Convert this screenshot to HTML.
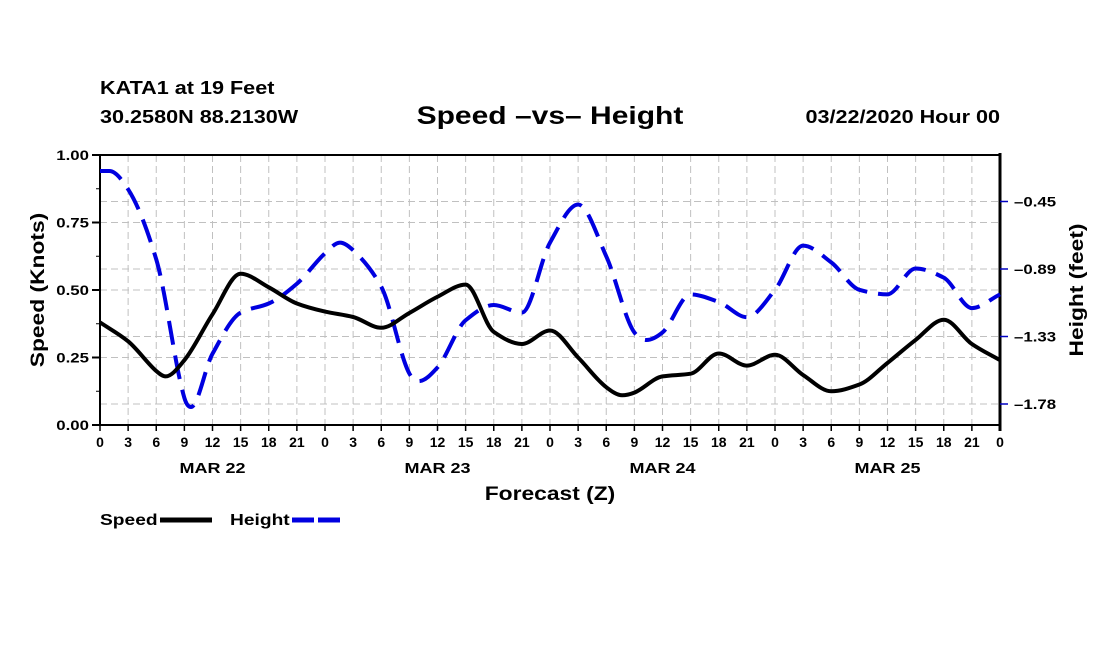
<!DOCTYPE html>
<html><head><meta charset="utf-8"><style>
html,body{margin:0;padding:0;background:#fff;}
svg text{font-family:"Liberation Sans",Arial,sans-serif;font-weight:bold;}
</style></head><body>
<svg id="chart" width="1100" height="650" viewBox="0 0 1100 650" xmlns="http://www.w3.org/2000/svg">
<rect width="1100" height="650" fill="#fff"/>
<text class="st" x="100" y="94" font-size="18">KATA1 at 19 Feet</text>
<text class="st" x="100" y="123" font-size="18">30.2580N 88.2130W</text>
<text class="st" x="550" y="124" font-size="25" text-anchor="middle">Speed –vs– Height</text>
<text class="st" x="1000" y="123" font-size="18" text-anchor="end">03/22/2020 Hour 00</text>
<g id="grid"></g>
<g id="axes"></g>
<g id="series"></g>
<text class="st" transform="translate(44,290) rotate(-90)" font-size="19" text-anchor="middle">Speed (Knots)</text>
<text class="st" transform="translate(1083,290) rotate(-90)" font-size="19" text-anchor="middle">Height (feet)</text>
<text class="st" x="550" y="500" font-size="19" text-anchor="middle">Forecast (Z)</text>
<g>
<text class="st" x="100" y="525" font-size="16">Speed</text>
<line x1="160" y1="520" x2="212" y2="520" stroke="#000" stroke-width="5"/>
<text class="st" x="230" y="525" font-size="16">Height</text>
<line x1="292" y1="520" x2="342" y2="520" stroke="#0000e0" stroke-width="5" stroke-dasharray="22,4"/>
</g>
</svg>
<script>
const speedHours=[0,3,6,7,9,12,15,18,21,24,27,30,33,36,39,42,45,48,51,54,55.7,57,60,63,66,69,72,75,78,81,84,87,90,93,96];
const speedValues=[0.38,0.31,0.20,0.18,0.24,0.41,0.56,0.51,0.45,0.42,0.40,0.36,0.415,0.475,0.52,0.345,0.30,0.35,0.25,0.14,0.11,0.12,0.18,0.19,0.265,0.22,0.26,0.185,0.125,0.15,0.23,0.315,0.39,0.30,0.24];
const heightHours=[0,1,3,6,9,9.7,12,15,18,21,24,25.6,27,30,33,34,36,39,42,45,48,51,54,57,58.3,60,63,66,69,72,75,78,81,84,87,90,93,96];
const heightValues=[-0.25,-0.25,-0.37,-0.83,-1.74,-1.80,-1.45,-1.18,-1.12,-0.99,-0.79,-0.72,-0.77,-1.01,-1.58,-1.63,-1.54,-1.23,-1.13,-1.18,-0.72,-0.47,-0.81,-1.31,-1.36,-1.31,-1.06,-1.11,-1.21,-1.03,-0.74,-0.85,-1.03,-1.06,-0.89,-0.95,-1.15,-1.06];
const leftTicks=[0,0.25,0.5,0.75,1.0];
const leftTickLabels=["0.00","0.25","0.50","0.75","1.00"];
const rightTicks=[-0.45,-0.8933,-1.3367,-1.78];
const rightTickLabels=["–0.45","–0.89","–1.33","–1.78"];
const hourTicks=[0,3,6,9,12,15,18,21,24,27,30,33,36,39,42,45,48,51,54,57,60,63,66,69,72,75,78,81,84,87,90,93,96];
const dayLabels=["MAR 22","MAR 23","MAR 24","MAR 25"];
const dayLabelHours=[12,36,60,84];

const NS="http://www.w3.org/2000/svg";
const X0=100,X1=1000,Y0=425,Y1=155;
const xS=h=>X0+(h/96)*(X1-X0);
const yL=v=>Y0-v*(Y0-Y1);
const yR=f=>201.5+(-0.45-f)/0.44333*67.5;
function mk(tag,attrs,parent){const e=document.createElementNS(NS,tag);for(const k in attrs)e.setAttribute(k,attrs[k]);parent.appendChild(e);return e;}
const grid=document.getElementById('grid'),axes=document.getElementById('axes'),ser=document.getElementById('series');
hourTicks.forEach(h=>{const l=mk('line',{x1:xS(h),x2:xS(h),y1:Y1,y2:Y0,stroke:'#c0c0c0','stroke-width':1,'stroke-dasharray':'7,4'},grid);

});
leftTicks.forEach(v=>{const l=mk('line',{x1:X0,x2:X1,y1:yL(v),y2:yL(v),stroke:'#c0c0c0','stroke-width':1,'stroke-dasharray':'7,4'},grid);

});
rightTicks.forEach(f=>{const l=mk('line',{x1:X0,x2:X1,y1:yR(f),y2:yR(f),stroke:'#c0c0c0','stroke-width':1,'stroke-dasharray':'7,4'},grid);

});
mk('line',{x1:X0,x2:X0,y1:Y1,y2:Y0,stroke:'#000','stroke-width':2},axes);
mk('line',{x1:X0,x2:X1,y1:Y0,y2:Y0,stroke:'#000','stroke-width':2},axes);
mk('line',{x1:X0,x2:X1,y1:Y1,y2:Y1,stroke:'#000','stroke-width':2},axes);
mk('line',{x1:X1,x2:X1,y1:Y1-2,y2:Y0+6,stroke:'#000','stroke-width':3},axes);
leftTicks.forEach((v,i)=>{mk('line',{x1:X0-8,x2:X0,y1:yL(v),y2:yL(v),stroke:'#000','stroke-width':2},axes);
const t=mk('text',{x:X0-11,y:yL(v)+5,'font-size':14,'text-anchor':'end','class':'st'},axes);t.textContent=leftTickLabels[i];


if(i<leftTicks.length-1)mk('line',{x1:X0-4,x2:X0,y1:yL(v+0.125),y2:yL(v+0.125),stroke:'#000','stroke-width':1},axes);});
rightTicks.forEach((f,i)=>{mk('line',{x1:X1,x2:X1+8,y1:yR(f),y2:yR(f),stroke:'#0000c0','stroke-width':1.5},axes);
const t=mk('text',{x:X1+14,y:yR(f)+5,'font-size':14,'class':'st'},axes);t.textContent=rightTickLabels[i];

});
hourTicks.forEach(h=>{mk('line',{x1:xS(h),x2:xS(h),y1:Y0,y2:Y0+6,stroke:'#000','stroke-width':1.5},axes);
const t=mk('text',{x:xS(h),y:Y0+22,'font-size':14,'text-anchor':'middle'},axes);t.textContent=String(h%24);

});
dayLabels.forEach((d,i)=>{const t=mk('text',{x:xS(dayLabelHours[i]),y:Y0+48,'font-size':15,'text-anchor':'middle','class':'st'},axes);t.textContent=d;

});
// monotone-ish cubic hermite in x
function smooth(xs,ys){const n=xs.length,m=[];
for(let i=0;i<n;i++){if(i===0)m.push((ys[1]-ys[0])/(xs[1]-xs[0]));else if(i===n-1)m.push((ys[n-1]-ys[n-2])/(xs[n-1]-xs[n-2]));
else{const a=(ys[i]-ys[i-1])/(xs[i]-xs[i-1]),b=(ys[i+1]-ys[i])/(xs[i+1]-xs[i]);m.push(a*b<=0?0:(xs[i+1]-xs[i-1])/((xs[i]-xs[i-1])/a+(xs[i+1]-xs[i])/b)*1.0);}}
let d=`M${xs[0]},${ys[0]}`;
for(let i=0;i<n-1;i++){const dx=(xs[i+1]-xs[i])/3;d+=`C${xs[i]+dx},${ys[i]+m[i]*dx} ${xs[i+1]-dx},${ys[i+1]-m[i+1]*dx} ${xs[i+1]},${ys[i+1]}`;}
return d;}
const hp=mk('path',{d:smooth(heightHours.map(xS),heightValues.map(yR)),fill:'none',stroke:'#0000e0','stroke-width':4,'stroke-dasharray':'24,11'},ser);


const sp=mk('path',{d:smooth(speedHours.map(xS),speedValues.map(yL)),fill:'none',stroke:'#000','stroke-width':4,'stroke-linejoin':'round'},ser);


// horizontally stretch text to match reference glyph widths
document.querySelectorAll('text.st').forEach(t=>{const w=t.getComputedTextLength();t.setAttribute('textLength',(w*1.2).toFixed(1));t.setAttribute('lengthAdjust','spacingAndGlyphs');});
</script>
</body></html>
